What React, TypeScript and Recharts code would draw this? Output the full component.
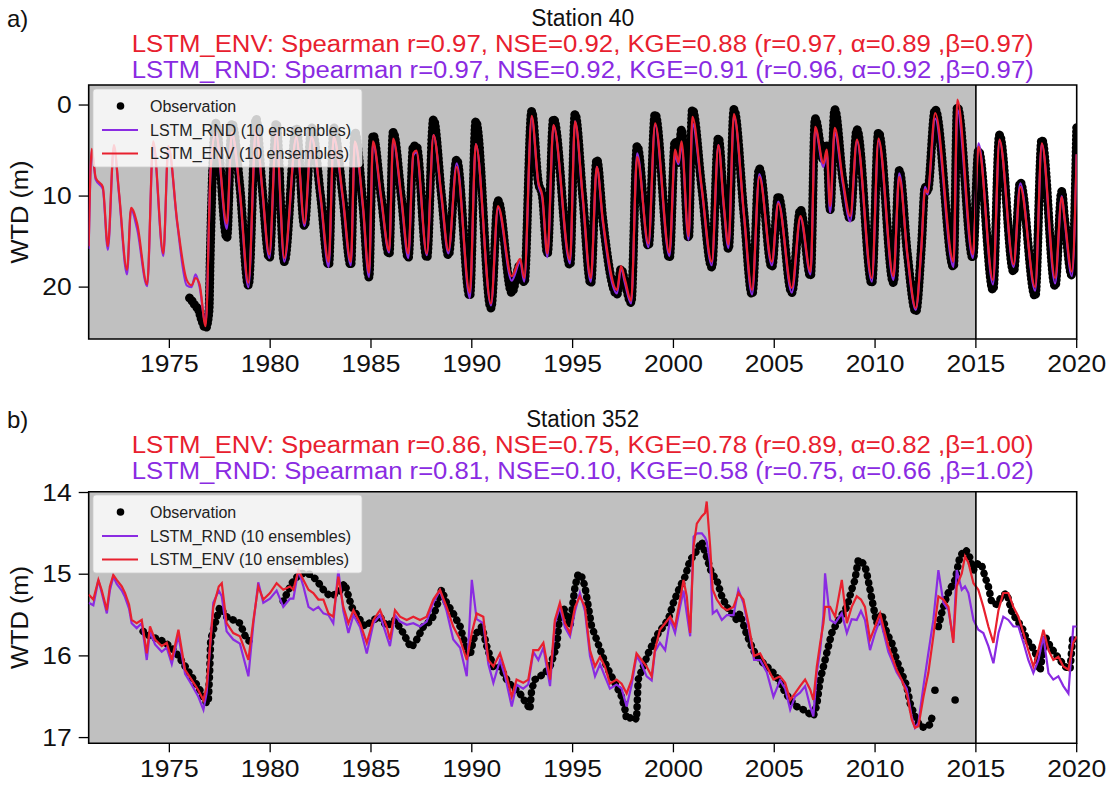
import React from 'react';
import { ComposedChart, Line, XAxis, YAxis, ReferenceArea, ReferenceLine } from 'recharts';

const ENV_COLOR = '#e8202e';
const RND_COLOR = '#8a2be2';
const FONT = '"Liberation Sans", Arial, sans-serif';

const yearTicks = [1975, 1980, 1985, 1990, 1995, 2000, 2005, 2010, 2015, 2020];
const trainEnd = 2015;

// ---- Station 40 (water table depth, m) ----
const s40Time = [
  1971.0, 1971.15, 1971.35, 1971.7, 1971.95, 1972.25, 1972.5, 1972.9, 1973.1, 1973.4,
  1973.9, 1974.2, 1974.7, 1974.95, 1975.4, 1975.86, 1976.1, 1976.3, 1976.5, 1976.8,
  1977.05, 1977.3, 1977.85, 1978.1, 1978.5, 1978.92, 1979.3, 1979.6, 1979.96, 1980.3,
  1980.7, 1981.3, 1981.7, 1982.05, 1982.5, 1982.9, 1983.15, 1983.6, 1984.0, 1984.2,
  1984.6, 1984.9, 1985.1, 1985.5, 1985.9, 1986.1, 1986.5, 1986.85, 1987.1, 1987.25,
  1987.77, 1988.1, 1988.5, 1988.84, 1989.25, 1989.9, 1990.2, 1990.95, 1991.3, 1991.98,
  1992.4, 1992.6, 1992.97, 1993.3, 1993.5, 1993.75, 1994.05, 1994.87, 1995.12, 1995.5,
  1995.9, 1996.2, 1996.5, 1997.2, 1997.4, 1997.6, 1997.9, 1998.2, 1998.76, 1999.09,
  1999.8, 2000.08, 2000.25, 2000.4, 2000.75, 2000.94, 2001.4, 2001.9, 2002.23, 2002.5,
  2002.73, 2003.0, 2003.5, 2003.9, 2004.26, 2004.88, 2005.2, 2005.87, 2006.3, 2006.8,
  2007.03, 2007.44, 2007.6, 2007.77, 2008.0, 2008.4, 2008.77, 2009.1, 2009.84, 2010.17,
  2010.91, 2011.2, 2011.6, 2012.02, 2012.3, 2012.48, 2012.6, 2012.98, 2013.89, 2014.08,
  2014.85, 2015.13, 2015.85, 2016.17, 2016.87, 2017.2, 2017.94, 2018.27, 2018.93, 2019.26,
  2019.4, 2019.76, 2020.0,
];
const s40Env = [
  15.5, 4.8, 8.0, 9.0, 15.5, 4.4, 9.5, 18.1, 11.3, 13.0,
  19.7, 4.0, 16.3, 4.5, 13.0, 19.2, 19.8, 19.0, 19.7, 24.3,
  7.0, 3.0, 13.0, 3.0, 9.5, 19.5, 2.5, 9.0, 16.4, 3.0,
  16.8, 3.5, 13.0, 3.5, 10.0, 17.2, 3.5, 10.0, 17.2, 4.0,
  11.0, 18.4, 4.0, 10.0, 16.0, 3.7, 10.0, 16.3, 5.3, 5.0,
  16.3, 3.3, 10.0, 16.0, 6.8, 20.6, 4.3, 21.8, 11.1, 18.8,
  16.9, 19.0, 1.2, 8.5, 10.0, 16.3, 2.2, 17.0, 1.8, 10.0,
  19.0, 6.8, 12.6, 20.3, 17.7, 19.2, 21.5, 5.7, 15.2, 2.0,
  16.2, 4.9, 6.3, 4.0, 14.4, 1.3, 9.0, 17.2, 4.4, 11.0,
  15.3, 1.0, 12.0, 20.3, 7.9, 17.2, 10.8, 20.1, 12.2, 18.3,
  2.4, 6.4, 4.9, 11.1, 2.5, 8.2, 12.2, 3.8, 19.0, 3.7,
  18.8, 7.9, 16.3, 22.3, 15.5, 9.3, 9.6, 0.9, 17.2, -0.6,
  16.4, 4.6, 19.2, 3.8, 17.5, 9.0, 20.0, 4.2, 19.0, 10.1,
  12.4, 18.3, 5.4,
];
const s40Rnd = [
  15.8, 5.0, 8.2, 9.2, 15.9, 4.6, 9.7, 18.6, 11.5, 13.6,
  19.9, 4.2, 16.6, 4.6, 13.2, 19.8, 20.0, 18.6, 20.0, 24.0,
  7.0, 3.0, 13.6, 3.2, 9.8, 20.0, 2.6, 9.2, 16.8, 3.2,
  17.2, 3.6, 13.3, 3.6, 10.3, 17.8, 3.6, 10.3, 17.6, 4.1,
  11.3, 18.9, 4.2, 10.3, 16.2, 3.9, 10.3, 16.8, 5.5, 5.2,
  16.5, 3.3, 10.3, 16.3, 6.4, 21.2, 4.3, 22.0, 11.3, 19.3,
  17.2, 19.4, 1.4, 8.7, 10.3, 16.7, 2.3, 17.4, 1.8, 10.3,
  19.4, 6.8, 12.9, 20.7, 17.9, 19.6, 21.8, 5.3, 15.6, 2.2,
  16.6, 5.5, 6.5, 4.5, 14.8, 2.0, 9.2, 17.6, 4.4, 11.3,
  15.7, 1.2, 12.2, 20.8, 7.6, 17.6, 10.6, 20.6, 12.4, 18.6,
  2.6, 6.8, 5.2, 11.8, 3.0, 8.6, 12.8, 4.0, 19.4, 3.9,
  19.2, 7.5, 16.5, 22.5, 15.5, 9.0, 9.8, 1.5, 17.8, 0.5,
  16.8, 4.2, 19.7, 3.9, 17.8, 8.6, 20.4, 4.3, 19.6, 10.0,
  12.6, 18.8, 5.4,
];
const s40ObsTime = [
  1976.0, 1976.15, 1976.3, 1976.45, 1976.6, 1976.8, 1976.97, 1977.02, 1977.3, 1977.85,
  1978.1, 1978.5, 1978.92, 1979.3, 1979.6, 1979.96, 1980.3, 1980.7, 1981.3, 1981.7,
  1982.05, 1982.5, 1982.9, 1983.15, 1983.6, 1984.0, 1984.2, 1984.6, 1984.9, 1985.1,
  1985.5, 1985.9, 1986.1, 1986.5, 1986.85, 1987.1, 1987.25, 1987.77, 1988.1, 1988.5,
  1988.84, 1989.25, 1989.9, 1990.2, 1990.95, 1991.3, 1991.98, 1992.4, 1992.6, 1992.97,
  1993.3, 1993.5, 1993.75, 1994.05, 1994.87, 1995.12, 1995.5, 1995.9, 1996.2, 1996.5,
  1997.2, 1997.4, 1997.6, 1997.9, 1998.2, 1998.76, 1999.09, 1999.8, 2000.08, 2000.25,
  2000.4, 2000.75, 2000.94, 2001.4, 2001.9, 2002.23, 2002.5, 2002.73, 2003.0, 2003.5,
  2003.9, 2004.26, 2004.88, 2005.2, 2005.87, 2006.3, 2006.8, 2007.03, 2007.44, 2007.6,
  2007.77, 2008.0, 2008.4, 2008.77, 2009.1, 2009.84, 2010.17, 2010.91, 2011.2, 2011.6,
  2012.02, 2012.3, 2012.48, 2012.6, 2012.98, 2013.89, 2014.08, 2014.85, 2015.13, 2015.85,
  2016.17, 2016.87, 2017.2, 2017.94, 2018.27, 2018.93, 2019.26, 2019.4, 2019.76, 2020.0,
];
const s40Obs = [
  21.2, 21.6, 22.1, 22.5, 23.6, 24.5, 22.5, 17.3, 2.0, 14.6,
  2.0, 9.0, 19.8, 1.5, 9.0, 16.8, 2.0, 17.2, 2.5, 13.3,
  2.5, 10.0, 17.6, 2.5, 10.0, 17.6, 3.0, 11.0, 18.9, 3.3,
  10.0, 16.4, 3.0, 10.0, 16.8, 4.5, 4.5, 16.8, 1.6, 10.0,
  16.5, 6.0, 21.0, 1.8, 22.3, 10.5, 20.6, 17.5, 19.5, 0.7,
  8.5, 10.0, 16.3, 1.5, 17.6, 1.0, 10.0, 19.6, 6.0, 12.6,
  20.8, 18.0, 19.5, 21.7, 4.5, 15.5, 1.0, 16.8, 4.0, 6.3,
  2.7, 14.6, 0.5, 9.0, 17.8, 3.6, 11.0, 15.8, 0.5, 12.0,
  20.8, 7.0, 17.8, 10.0, 20.6, 11.5, 18.8, 1.5, 6.0, 4.5,
  11.5, 0.5, 8.2, 12.5, 2.7, 19.6, 3.0, 19.5, 7.2, 16.3,
  22.7, 15.5, 9.0, 9.5, 0.5, 17.8, 0.2, 16.8, 5.0, 20.3,
  3.3, 18.3, 8.5, 21.0, 3.8, 19.9, 9.5, 12.5, 18.7, 2.4,
];

// ---- Station 352 (water table depth, m) ----
const s352Time = [
  1971.0, 1971.23, 1971.48, 1971.64, 1971.9, 1972.05, 1972.22, 1972.39, 1972.64, 1972.8,
  1973.0, 1973.13, 1973.38, 1973.63, 1973.88, 1974.04, 1974.29, 1974.62, 1974.87, 1975.12,
  1975.45, 1975.78, 1976.1, 1976.44, 1976.69, 1976.85, 1977.18, 1977.45, 1977.6, 1977.84,
  1978.17, 1978.5, 1978.92, 1979.17, 1979.41, 1979.66, 1979.99, 1980.32, 1980.65, 1980.98,
  1981.15, 1981.4, 1981.65, 1981.9, 1982.14, 1982.39, 1982.64, 1982.89, 1983.13, 1983.38,
  1983.63, 1983.88, 1984.13, 1984.46, 1984.79, 1985.12, 1985.45, 1985.78, 1985.94, 1986.19,
  1986.44, 1986.77, 1987.1, 1987.43, 1987.76, 1988.09, 1988.42, 1988.75, 1989.08, 1989.42,
  1989.75, 1990.0, 1990.24, 1990.57, 1990.82, 1991.07, 1991.4, 1991.65, 1991.98, 1992.22,
  1992.55, 1992.8, 1993.05, 1993.3, 1993.55, 1993.88, 1994.12, 1994.37, 1994.62, 1994.87,
  1995.12, 1995.36, 1995.61, 1995.86, 1996.11, 1996.36, 1996.6, 1996.85, 1997.18, 1997.43,
  1997.68, 1997.93, 1998.17, 1998.42, 1998.67, 1998.92, 1999.08, 1999.33, 1999.59, 1999.84,
  2000.08, 2000.33, 2000.5, 2000.66, 2000.83, 2001.0, 2001.16, 2001.41, 2001.57, 2001.65,
  2001.82, 2001.95, 2002.15, 2002.4, 2002.65, 2002.98, 2003.22, 2003.47, 2003.72, 2004.0,
  2004.3, 2004.63, 2004.96, 2005.29, 2005.54, 2005.79, 2006.03, 2006.28, 2006.53, 2006.78,
  2006.94, 2007.11, 2007.28, 2007.44, 2007.52, 2007.77, 2008.02, 2008.35, 2008.6, 2008.84,
  2009.09, 2009.3, 2009.5, 2009.75, 2010.0, 2010.25, 2010.41, 2010.66, 2010.83, 2011.07,
  2011.32, 2011.57, 2011.82, 2011.98, 2012.15, 2012.4, 2012.64, 2012.89, 2013.14, 2013.39,
  2013.64, 2013.88, 2014.05, 2014.3, 2014.46, 2014.63, 2014.88, 2015.12, 2015.37, 2015.62,
  2015.87, 2016.12, 2016.36, 2016.61, 2016.86, 2017.11, 2017.36, 2017.6, 2017.85, 2018.1,
  2018.35, 2018.6, 2018.84, 2019.09, 2019.34, 2019.59, 2019.83, 2020.0,
];
const s352Env = [
  15.25, 15.31, 15.07, 15.19, 15.44, 15.15, 15.01, 15.07, 15.15, 15.23,
  15.37, 15.56, 15.6, 15.56, 15.97, 15.64, 15.8, 15.88, 15.84, 16.05,
  15.68, 16.17, 16.29, 16.42, 16.54, 16.37, 15.4, 15.15, 15.11, 15.6,
  15.72, 15.76, 16.05, 15.56, 15.15, 15.31, 15.23, 15.11, 15.19, 15.15,
  15.19, 14.95, 15.07, 15.19, 15.23, 15.31, 15.31, 15.48, 15.52, 15.03,
  15.4, 15.6, 15.44, 15.6, 15.84, 15.56, 15.44, 15.64, 15.8, 15.44,
  15.52, 15.56, 15.52, 15.56, 15.52, 15.31, 15.19, 15.4, 15.64, 15.8,
  16.05, 15.72, 15.48, 15.52, 16.05, 16.13, 15.97, 16.17, 16.5, 16.29,
  16.33, 16.29, 15.93, 15.93, 15.84, 16.29, 15.56, 15.35, 15.6, 15.72,
  15.4, 15.27, 15.4, 15.93, 16.13, 16.01, 16.13, 16.34, 16.29, 16.34,
  16.46, 16.29, 15.97, 16.05, 16.13, 16.25, 15.93, 15.68, 15.6, 15.52,
  15.64, 15.31, 15.07, 15.27, 15.72, 14.66, 14.38, 14.29, 14.25, 14.11,
  14.66, 15.19, 15.31, 15.4, 15.44, 15.4, 15.23, 15.31, 15.6, 16.0,
  15.97, 16.13, 16.29, 16.25, 16.33, 16.54, 16.46, 16.37, 16.29, 16.41,
  16.54, 16.13, 15.84, 15.6, 15.4, 15.4, 15.52, 15.07, 15.6, 15.4,
  15.27, 15.31, 15.4, 15.8, 15.64, 15.48, 15.64, 15.88, 16.0, 16.17,
  16.29, 16.46, 16.78, 16.88, 16.86, 16.5, 16.21, 15.76, 15.27, 15.31,
  15.4, 15.84, 15.15, 14.99, 14.78, 14.86, 15.11, 15.19, 15.4, 15.64,
  15.84, 15.44, 15.23, 15.23, 15.4, 15.52, 15.72, 15.93, 16.13, 15.93,
  15.68, 15.93, 16.05, 16.01, 16.13, 16.17, 15.84, 15.76,
];
const s352Rnd = [
  15.35, 15.38, 15.07, 15.22, 15.48, 15.2, 15.03, 15.12, 15.2, 15.28,
  15.42, 15.6, 15.66, 15.6, 16.05, 15.7, 15.86, 15.95, 15.9, 16.1,
  15.75, 16.22, 16.35, 16.5, 16.66, 16.45, 15.35, 15.2, 15.27, 15.7,
  15.8, 15.85, 16.25, 15.6, 15.1, 15.35, 15.3, 15.2, 15.4, 15.3,
  15.3, 14.95, 15.15, 15.4, 15.44, 15.4, 15.48, 15.5, 15.6, 14.95,
  15.45, 15.72, 15.5, 15.65, 15.97, 15.6, 15.5, 15.76, 15.88, 15.5,
  15.58, 15.62, 15.6, 15.64, 15.58, 15.35, 15.2, 15.45, 15.8, 15.9,
  16.25, 15.07, 15.55, 15.6, 16.1, 16.33, 16.05, 16.25, 16.62, 16.35,
  16.4, 16.35, 15.95, 16.05, 15.9, 16.37, 15.6, 15.4, 15.65, 15.76,
  15.45, 15.23, 15.45, 16.0, 16.25, 16.1, 16.25, 16.4, 16.35, 16.4,
  16.62, 16.35, 16.0, 16.1, 16.25, 16.3, 15.95, 15.84, 15.93, 15.55,
  15.72, 15.4, 15.2, 15.48, 15.76, 14.54, 14.5, 14.5, 14.55, 14.6,
  14.86, 15.48, 15.44, 15.56, 15.5, 15.5, 15.19, 15.35, 15.65, 16.05,
  16.05, 16.2, 16.5, 16.3, 16.4, 16.66, 16.5, 16.45, 16.37, 16.62,
  16.74, 16.2, 15.93, 15.5, 14.99, 15.56, 15.6, 15.48, 15.72, 15.55,
  15.56, 15.45, 15.56, 15.93, 15.72, 15.55, 15.7, 15.95, 16.05, 16.2,
  16.3, 16.4, 16.75, 16.88, 16.82, 16.37, 15.97, 15.56, 14.95, 15.35,
  15.44, 15.8, 14.95, 15.19, 15.15, 15.23, 15.56, 15.68, 15.72, 15.88,
  16.09, 15.72, 15.52, 15.56, 15.64, 15.64, 15.84, 16.05, 16.21, 16.05,
  15.76, 16.21, 16.29, 16.25, 16.37, 16.46, 15.64, 15.64,
];
const s352ObsTime = [
  1973.7, 1974.04, 1974.54, 1975.03, 1975.36, 1975.69, 1976.1, 1976.52, 1976.77, 1976.93,
  1977.0, 1977.05, 1977.5, 1977.84, 1978.17, 1978.5, 1978.83, 1979.17, 1979.5, 1980.65,
  1981.07, 1981.48, 1981.98, 1982.3, 1982.64, 1982.97, 1983.38, 1983.7, 1984.04, 1984.46,
  1984.7, 1985.12, 1985.45, 1985.78, 1986.19, 1986.6, 1986.85, 1987.0, 1987.27, 1987.6,
  1988.01, 1988.26, 1988.5, 1988.75, 1989.08, 1989.42, 1989.75, 1989.91, 1990.08, 1990.24,
  1990.5, 1990.74, 1991.07, 1991.4, 1991.73, 1991.98, 1992.39, 1992.8, 1992.88, 1992.97,
  1993.13, 1993.38, 1993.63, 1993.88, 1994.21, 1994.37, 1994.54, 1994.87, 1995.12, 1995.28,
  1995.45, 1995.61, 1995.78, 1995.94, 1996.19, 1996.44, 1996.69, 1996.93, 1997.18, 1997.43,
  1997.6, 1997.68, 1998.01, 1998.17, 1998.25, 1998.5, 1998.75, 1999.0, 1999.25, 1999.5,
  1999.75, 2000.0, 2000.33, 2000.58, 2000.83, 2001.0, 2001.4, 2001.9, 2002.15, 2002.4,
  2002.65, 2002.9, 2003.14, 2003.3, 2003.55, 2003.8, 2004.05, 2004.3, 2004.63, 2004.96,
  2005.21, 2005.46, 2005.79, 2006.12, 2006.45, 2006.7, 2006.94, 2007.11, 2007.28, 2007.52,
  2007.69, 2007.85, 2008.1, 2008.35, 2008.6, 2008.84, 2009.0, 2009.17, 2009.35, 2009.5,
  2009.6, 2009.83, 2010.08, 2010.33, 2010.58, 2010.83, 2011.07, 2011.32, 2011.57, 2011.74,
  2011.98, 2012.23, 2012.48, 2012.72, 2012.89, 2013.0, 2013.14, 2013.3, 2013.55, 2013.71,
  2013.97, 2014.21, 2014.46, 2014.63, 2014.88, 2015.12, 2015.3, 2015.45, 2015.62, 2015.79,
  2016.03, 2016.28, 2016.53, 2016.78, 2017.02, 2017.27, 2017.52, 2017.77, 2018.02, 2018.18,
  2018.43, 2018.68, 2018.93, 2019.17, 2019.42, 2019.67, 2019.8,
];
const s352Obs = [
  15.7, 15.76, 15.8, 15.88, 15.97, 16.09, 16.25, 16.42, 16.56, 16.58,
  16.2, 15.8, 15.4, 15.52, 15.56, 15.6, 15.8, 15.84, null, 15.33,
  15.11, 14.99, 15.0, 15.07, 15.19, 15.27, 15.23, 15.11, 15.4, 15.56,
  15.64, 15.56, 15.52, 15.64, 15.56, 15.72, 15.84, 15.9, 15.8, 15.64,
  15.56, 15.4, 15.19, 15.35, 15.48, 15.64, 15.93, 16.0, 15.8, 15.72,
  15.64, 15.88, 16.13, 16.13, 16.29, 16.37, 16.46, 16.62, 16.66, 16.41,
  16.29, 16.25, 16.21, 16.13, 15.88, 15.48, 15.4, 15.64, 15.15, 14.99,
  15.03, 15.15, 15.4, 15.64, 15.8, 15.97, 16.13, 16.25, 16.37, 16.5,
  16.66, 16.78, 16.74, 16.78, 16.29, 16.13, 15.97, 15.84, 15.72, 15.64,
  15.55, 15.35, 15.15, 15.03, 14.82, 14.78, 14.6, 14.99, 15.07, 15.27,
  15.4, 15.48, 15.56, 15.48, 15.68, 15.84, 15.97, 16.05, 16.13, 16.21,
  16.29, 16.41, 16.54, 16.62, 16.66, 16.7, 16.74, 16.6, 16.29, 16.05,
  15.88, 15.72, 15.6, 15.5, 15.4, 15.19, 15.07, 14.82, 14.85, 14.9,
  15.0, 15.29, 15.6, 15.48, 15.72, 15.84, 16.05, 16.21, 16.37, 16.58,
  16.74, 16.86, 16.88, 16.84, 16.7, null, 15.64, 15.48, 15.27, 15.19,
  15.07, 14.78, 14.7, 14.74, 14.95, 14.86, 14.9, 15.03, 15.15, 15.35,
  15.37, 15.27, 15.23, 15.46, 15.56, 15.64, 15.8, 15.88, 16.0, 16.19,
  15.76, 15.88, 15.97, 16.05, 16.13, 16.17, 15.78,
];
// isolated readings away from the main trace
const s352StrayTime = [2012.97, 2013.97];
const s352Stray = [16.42, 16.54];

type Pt = { t: number; v: number | null };
const zip = (ts: number[], vs: (number | null)[]): Pt[] => ts.map((t, i) => ({ t, v: vs[i] }));

const XTick = (props: any) => {
  const { x, y, payload } = props;
  return (
    <g transform={`translate(${x},${y})`}>
      <text transform="scale(1.15,1)" textAnchor="middle" dy="0.71em" fontSize={23} fontFamily={FONT} fill="#111">
        {payload.value}
      </text>
    </g>
  );
};

const YTick = (props: any) => {
  const { x, y, payload } = props;
  return (
    <g transform={`translate(${x},${y})`}>
      <text transform="scale(1.15,1)" textAnchor="end" dy="0.36em" fontSize={23} fontFamily={FONT} fill="#111">
        {payload.value}
      </text>
    </g>
  );
};

type PanelProps = {
  top: number;
  height: number;
  marginTop: number;
  xAxisHeight: number;
  yDomain: [number, number];
  yTicks: number[];
  env: Pt[];
  rnd: Pt[];
  obs: Pt[];
  stray?: Pt[];
  curve: 'linear' | 'monotoneX';
  obsWidth: number;
  obsGap: number;
};

const Panel = (p: PanelProps) => (
  <div style={{ position: 'absolute', left: 0, top: p.top }}>
    <ComposedChart width={1111} height={p.height} margin={{ top: p.marginTop, right: 34.3, bottom: 0, left: 0 }}>
      <XAxis
        dataKey="t"
        type="number"
        domain={[1971, 2020]}
        ticks={yearTicks}
        interval={0}
        allowDataOverflow
        height={p.xAxisHeight}
        axisLine={false}
        tickSize={9}
        tickMargin={8}
        tickLine={{ stroke: '#000', strokeWidth: 1.3 }}
        tick={XTick}
      />
      <YAxis
        type="number"
        reversed
        domain={p.yDomain}
        ticks={p.yTicks}
        interval={0}
        allowDataOverflow
        width={88.7}
        axisLine={false}
        tickSize={10}
        tickMargin={7}
        tickLine={{ stroke: '#000', strokeWidth: 1.3 }}
        tick={YTick}
      />
      <ReferenceArea x1={1971} x2={trainEnd} fill="#c0c0c0" fillOpacity={1} stroke="none" />
      {/* observations: round-capped dash dots traced along the record */}
      <Line
        data={p.obs}
        dataKey="v"
        type={p.curve}
        stroke="#000"
        strokeWidth={p.obsWidth}
        strokeDasharray={`0.01 ${p.obsGap}`}
        strokeLinecap="round"
        strokeLinejoin="round"
        dot={false}
        connectNulls={false}
        isAnimationActive={false}
      />
      {p.stray && (
        <Line
          data={p.stray}
          dataKey="v"
          stroke="none"
          dot={{ r: 3.8, fill: '#000', stroke: 'none' }}
          isAnimationActive={false}
        />
      )}
      <Line data={p.rnd} dataKey="v" type={p.curve} stroke={RND_COLOR} strokeWidth={2.2} dot={false} isAnimationActive={false} />
      <Line data={p.env} dataKey="v" type={p.curve} stroke={ENV_COLOR} strokeWidth={2.2} dot={false} isAnimationActive={false} />
      <ReferenceLine x={trainEnd} stroke="#000" strokeWidth={1.6} />
      <ReferenceArea x1={1971} x2={2020} fill="none" stroke="#000" strokeWidth={1.6} />
    </ComposedChart>
  </div>
);

const LegendBox = ({ top }: { top: number }) => (
  <g fontFamily={FONT} fontSize={16} fill="#222">
    <rect x={93} y={top} width={269} height={78} rx={3} fill="#fff" fillOpacity={0.8} stroke="#ccc" strokeOpacity={0.8} />
    <circle cx={120.5} cy={top + 17} r={3.8} fill="#000" />
    <text x={150} y={top + 17} dominantBaseline="central">Observation</text>
    <line x1={102} x2={138} y1={top + 41} y2={top + 41} stroke={RND_COLOR} strokeWidth={2} />
    <text x={150} y={top + 41} dominantBaseline="central">LSTM_RND (10 ensembles)</text>
    <line x1={102} x2={138} y1={top + 64.5} y2={top + 64.5} stroke={ENV_COLOR} strokeWidth={2} />
    <text x={150} y={top + 64.5} dominantBaseline="central">LSTM_ENV (10 ensembles)</text>
  </g>
);

const Titles = ({ base, tag, station, envLine, rndLine, stationWidth }: any) => (
  <g fontFamily={FONT} fontSize={23}>
    <text x={7} y={base + 1} fill="#111" fontSize={24}>{tag}</text>
    <text x={582.7} y={base} textAnchor="middle" fill="#111" textLength={stationWidth} lengthAdjust="spacingAndGlyphs">
      {station}
    </text>
    <text x={582.7} y={base + 26} textAnchor="middle" fill={ENV_COLOR} textLength={902} lengthAdjust="spacingAndGlyphs">
      {envLine}
    </text>
    <text x={582.7} y={base + 52} textAnchor="middle" fill={RND_COLOR} textLength={902} lengthAdjust="spacingAndGlyphs">
      {rndLine}
    </text>
  </g>
);

const YLabel = ({ cy }: { cy: number }) => (
  <text
    transform={`translate(20,${cy}) rotate(-90)`}
    textAnchor="middle"
    dominantBaseline="central"
    fontFamily={FONT}
    fontSize={23}
    fill="#111"
    textLength={103}
    lengthAdjust="spacingAndGlyphs"
  >
    WTD (m)
  </text>
);

export default function App() {
  return (
    <div style={{ position: 'absolute', left: 0, top: 0, width: 1111, height: 787, background: '#fff', overflow: 'hidden' }}>
      <Panel
        top={0}
        height={390}
        marginTop={85}
        xAxisHeight={51}
        yDomain={[-2.2, 25.7]}
        yTicks={[0, 10, 20]}
        env={zip(s40Time, s40Env)}
        rnd={zip(s40Time, s40Rnd)}
        obs={zip(s40ObsTime, s40Obs)}
        curve="monotoneX"
        obsWidth={9}
        obsGap={4}
      />
      <Panel
        top={400}
        height={387}
        marginTop={91.7}
        xAxisHeight={43.7}
        yDomain={[13.99, 17.07]}
        yTicks={[14, 15, 16, 17]}
        env={zip(s352Time, s352Env)}
        rnd={zip(s352Time, s352Rnd)}
        obs={zip(s352ObsTime, s352Obs)}
        stray={zip(s352StrayTime, s352Stray)}
        curve="linear"
        obsWidth={7.5}
        obsGap={7}
      />
      <svg width={1111} height={787} style={{ position: 'absolute', left: 0, top: 0, pointerEvents: 'none' }}>
        <Titles
          base={26}
          tag="a)"
          station="Station 40"
          stationWidth={103}
          envLine="LSTM_ENV: Spearman r=0.97, NSE=0.92, KGE=0.88 (r=0.97, α=0.89 ,β=0.97)"
          rndLine="LSTM_RND: Spearman r=0.97, NSE=0.92, KGE=0.91 (r=0.96, α=0.92 ,β=0.97)"
        />
        <Titles
          base={427}
          tag="b)"
          station="Station 352"
          stationWidth={113}
          envLine="LSTM_ENV: Spearman r=0.86, NSE=0.75, KGE=0.78 (r=0.89, α=0.82 ,β=1.00)"
          rndLine="LSTM_RND: Spearman r=0.81, NSE=0.10, KGE=0.58 (r=0.75, α=0.66 ,β=1.02)"
        />
        <YLabel cy={212} />
        <YLabel cy={617.5} />
        <LegendBox top={89} />
        <LegendBox top={495} />
      </svg>
    </div>
  );
}
